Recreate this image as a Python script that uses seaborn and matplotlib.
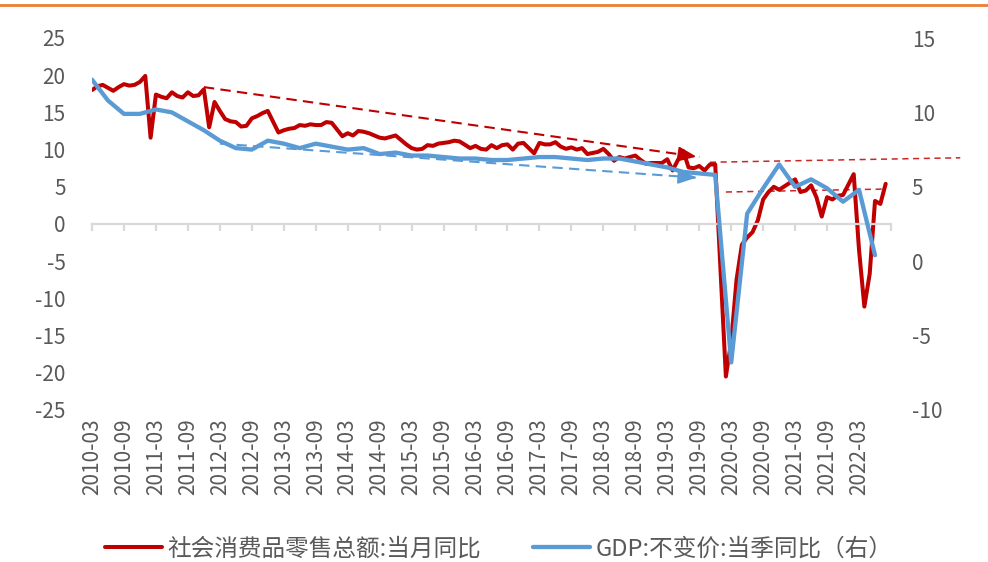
import matplotlib
matplotlib.use("Agg")
import matplotlib.pyplot as plt
from matplotlib.lines import Line2D
import pandas as pd
import seaborn as sns

# 社会消费品零售总额:当月同比 (%), monthly
retail_months = [
    "2010-03", "2010-04", "2010-05", "2010-06", "2010-07", "2010-08", "2010-09", "2010-10", "2010-11", "2010-12",
    "2011-01", "2011-02", "2011-03", "2011-04", "2011-05", "2011-06", "2011-07", "2011-08", "2011-09", "2011-10", "2011-11", "2011-12",
    "2012-01", "2012-02", "2012-03", "2012-04", "2012-05", "2012-06", "2012-07", "2012-08", "2012-09", "2012-10", "2012-11", "2012-12",
    "2013-02", "2013-03", "2013-04", "2013-05", "2013-06", "2013-07", "2013-08", "2013-09", "2013-10", "2013-11", "2013-12",
    "2014-02", "2014-03", "2014-04", "2014-05", "2014-06", "2014-07", "2014-08", "2014-09", "2014-10", "2014-11", "2014-12",
    "2015-02", "2015-03", "2015-04", "2015-05", "2015-06", "2015-07", "2015-08", "2015-09", "2015-10", "2015-11", "2015-12",
    "2016-02", "2016-03", "2016-04", "2016-05", "2016-06", "2016-07", "2016-08", "2016-09", "2016-10", "2016-11", "2016-12",
    "2017-02", "2017-03", "2017-04", "2017-05", "2017-06", "2017-07", "2017-08", "2017-09", "2017-10", "2017-11", "2017-12",
    "2018-02", "2018-03", "2018-04", "2018-05", "2018-06", "2018-07", "2018-08", "2018-09", "2018-10", "2018-11", "2018-12",
    "2019-02", "2019-03", "2019-04", "2019-05", "2019-06", "2019-07", "2019-08", "2019-09", "2019-10", "2019-11", "2019-12",
    "2020-02", "2020-03", "2020-04", "2020-05", "2020-06", "2020-07", "2020-08", "2020-09", "2020-10", "2020-11", "2020-12",
    "2021-03", "2021-04", "2021-05", "2021-06", "2021-07", "2021-08", "2021-09", "2021-10", "2021-11", "2021-12",
    "2022-02", "2022-03", "2022-04", "2022-05", "2022-06", "2022-07", "2022-08",
]
retail_yoy = [
    18.0, 18.5, 18.7, 18.3, 17.9, 18.4, 18.8, 18.6, 18.7, 19.1,
    19.9, 11.6, 17.4, 17.1, 16.9, 17.7, 17.2, 17.0, 17.7, 17.2, 17.3, 18.1,
    13.0, 16.4, 15.2, 14.1, 13.8, 13.7, 13.1, 13.2, 14.2, 14.5, 14.9, 15.2,
    12.3, 12.6, 12.8, 12.9, 13.3, 13.2, 13.4, 13.3, 13.3, 13.7, 13.6,
    11.8, 12.2, 11.9, 12.5, 12.4, 12.2, 11.9, 11.6, 11.5, 11.7, 11.9,
    10.7, 10.2, 10.0, 10.1, 10.6, 10.5, 10.8, 10.9, 11.0, 11.2, 11.1,
    10.2, 10.5, 10.1, 10.0, 10.6, 10.2, 10.6, 10.7, 10.0, 10.8, 10.9,
    9.5, 10.9, 10.7, 10.7, 11.0, 10.4, 10.1, 10.3, 10.0, 10.2, 9.4,
    9.7, 10.1, 9.4, 8.5, 9.0, 8.8, 9.0, 9.2, 8.6, 8.1, 8.2,
    8.2, 8.7, 7.2, 8.6, 9.8, 7.6, 7.5, 7.8, 7.2, 8.0, 8.0,
    -20.5, -15.8, -7.5, -2.8, -1.8, -1.1, 0.5, 3.3, 4.3, 5.0, 4.6,
    6.0, 4.3, 4.5, 5.2, 3.6, 1.0, 3.6, 3.3, 3.8, 3.9,
    6.7, -3.5, -11.1, -6.7, 3.1, 2.7, 5.4,
]

# GDP:不变价:当季同比 (%), quarterly
gdp_quarters = [
    "2010-03", "2010-06", "2010-09", "2010-12", "2011-03", "2011-06", "2011-09", "2011-12",
    "2012-03", "2012-06", "2012-09", "2012-12", "2013-03", "2013-06", "2013-09", "2013-12",
    "2014-03", "2014-06", "2014-09", "2014-12", "2015-03", "2015-06", "2015-09", "2015-12",
    "2016-03", "2016-06", "2016-09", "2016-12", "2017-03", "2017-06", "2017-09", "2017-12",
    "2018-03", "2018-06", "2018-09", "2018-12", "2019-03", "2019-06", "2019-09", "2019-12",
    "2020-03", "2020-06", "2020-09", "2020-12", "2021-03", "2021-06", "2021-09", "2021-12",
    "2022-03", "2022-06",
]
gdp_yoy = [
    12.2, 10.8, 9.9, 9.9, 10.2, 10.0, 9.4, 8.8,
    8.1, 7.6, 7.5, 8.1, 7.9, 7.6, 7.9, 7.7,
    7.5, 7.6, 7.2, 7.3, 7.1, 7.1, 7.0, 6.9,
    6.9, 6.8, 6.8, 6.9, 7.0, 7.0, 6.9, 6.8,
    6.9, 6.9, 6.7, 6.5, 6.3, 6.0, 5.9, 5.8,
    -6.8, 3.2, 4.9, 6.5, 5.0, 5.5, 4.9, 4.0,
    4.8, 0.4,
]

# x-axis labels every six months
tick_labels = [f"{y}-{m:02d}" for y in range(2010, 2023) for m in (3, 9)][:25]

retail_label = "社会消费品零售总额:当月同比"
gdp_label = "GDP:不变价:当季同比（右）"

# trend guides: (start month, start value) -> (end month, end value)
retail_trend = [("2011-12", 18.4), ("2019-09", 9.0)]
gdp_trend = [("2012-03", 7.9), ("2019-09", 5.6)]
retail_level_pre = [("2019-11", 8.3), ("2023-10", 8.9)]
retail_level_post = [("2020-02", 4.3), ("2022-08", 4.7)]

RED = "#C00000"
BLUE = "#5B9BD5"
GREY_TXT = "#595959"
AXIS_GREY = "#D9D9D9"


def month_index(s):
    p = pd.Period(s, freq="M")
    return (p.year - 2010) * 12 + p.month - 3


retail = pd.DataFrame({"idx": [month_index(m) for m in retail_months], "value": retail_yoy})
gdp = pd.DataFrame({"idx": [month_index(m) for m in gdp_quarters], "value": gdp_yoy})
tick_pos = [month_index(t) for t in tick_labels]

sns.set_theme(style="white")
plt.rcParams["font.family"] = ["Noto Sans CJK SC", "DejaVu Sans"]
plt.rcParams["font.weight"] = "light"
plt.rcParams["axes.unicode_minus"] = False

fig = plt.figure(figsize=(9.88, 5.62), dpi=100)
ax = fig.add_axes([92 / 988, 1 - 410 / 562, (891 - 92) / 988, (410 - 38) / 562])
ax2 = ax.twinx()

sns.lineplot(data=retail, x="idx", y="value", ax=ax, color=RED, linewidth=2.9, legend=False)
sns.lineplot(data=gdp, x="idx", y="value", ax=ax2, color=BLUE, linewidth=3.1, legend=False)

ax.set_xlim(0, 150)
ax.set_ylim(-25, 25)
ax2.set_ylim(-10, 15)
ax.set_yticks(range(-25, 26, 5))
ax2.set_yticks(range(-10, 16, 5))
ax.set_xlabel("")
ax.set_ylabel("")
ax2.set_ylabel("")

for a in (ax, ax2):
    for sp in ("top", "left", "right"):
        a.spines[sp].set_visible(False)
ax2.spines["bottom"].set_visible(False)

# zero line with tick marks
ax.spines["bottom"].set_position(("data", 0))
ax.spines["bottom"].set_color(AXIS_GREY)
ax.spines["bottom"].set_linewidth(1.6)
ax.set_xticks(list(range(0, 151, 6)))
ax.tick_params(axis="x", direction="out", length=5, width=1.6, color=AXIS_GREY, labelbottom=False, bottom=True)

# date labels along the bottom edge
sec = ax.secondary_xaxis("bottom")
sec.set_xticks(tick_pos, tick_labels)
sec.spines["bottom"].set_visible(False)
sec.tick_params(axis="x", length=0, pad=6, labelsize=15, labelcolor=GREY_TXT, labelrotation=90)

ax.tick_params(axis="y", length=0, pad=19, labelsize=15, labelcolor=GREY_TXT)
ax2.tick_params(axis="y", length=0, pad=15, labelsize=15, labelcolor=GREY_TXT)


def seg(pts):
    (m0, v0), (m1, v1) = pts
    return [month_index(m0), month_index(m1)], [v0, v1]


def dashed_arrow(a, pts, color):
    xs, ys = seg(pts)
    a.plot(xs, ys, color=color, lw=1.5, ls=(0, (5, 3)), zorder=5)
    dx = (xs[1] - xs[0]) * 0.02
    dy = (ys[1] - ys[0]) * 0.02
    a.annotate("", xy=(xs[1], ys[1]), xytext=(xs[1] - dx, ys[1] - dy),
               arrowprops=dict(arrowstyle="-|>,head_length=1.1,head_width=0.45",
                               color=color, lw=1.5, mutation_scale=10), zorder=6)


dashed_arrow(ax, retail_trend, RED)
dashed_arrow(ax2, gdp_trend, BLUE)

for pts in (retail_level_pre, retail_level_post):
    xs, ys = seg(pts)
    ax.plot(xs, ys, color=RED, lw=1.1, ls=(0, (4, 3)), alpha=0.85, zorder=5, clip_on=False)

# orange rule across the top
fig.add_artist(Line2D([0, 1], [1 - 5 / 562, 1 - 5 / 562], transform=fig.transFigure,
                      color="#ED7D31", lw=2))

handles = [Line2D([], [], color=RED, lw=2.9), Line2D([], [], color=BLUE, lw=3.1)]
fig.legend(handles, [retail_label, gdp_label], loc="center left",
           bbox_to_anchor=(105 / 988, 1 - 549 / 562), ncol=2, frameon=False,
           fontsize=17, labelcolor=GREY_TXT, handlelength=2.4, handletextpad=0.25,
           columnspacing=2.2, borderaxespad=0, borderpad=0)

fig.savefig("out.png", dpi=100)
